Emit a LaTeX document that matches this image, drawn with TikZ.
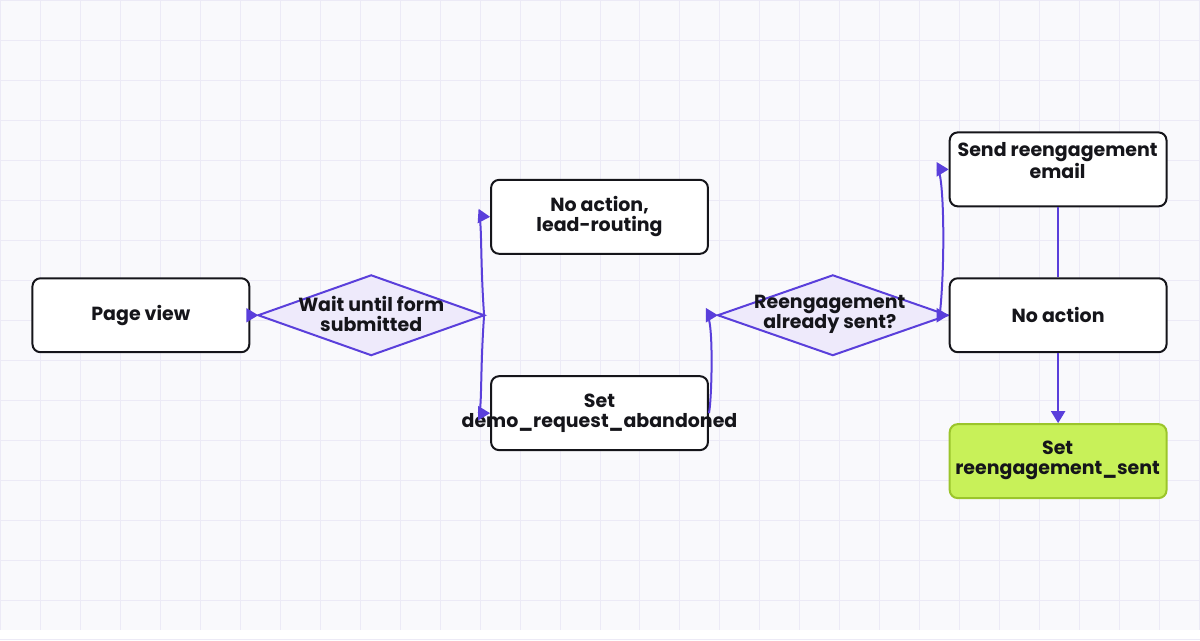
\documentclass[tikz,border=0pt]{standalone}
\usepackage{fontspec}
\setmainfont{Poppins}
\usetikzlibrary{shapes.geometric,arrows.meta}
\definecolor{bg}{HTML}{F9F9FC}
\definecolor{gridc}{HTML}{ECEAF6}
\definecolor{purp}{HTML}{5A3FDB}
\definecolor{dfill}{HTML}{EEEAFB}
\definecolor{gfill}{HTML}{C8F159}
\definecolor{gdraw}{HTML}{9BC52B}
\definecolor{ink}{HTML}{15151A}
\begin{document}
\begin{tikzpicture}[x=1pt,y=-1pt,
  box/.style={draw=ink,line width=2pt,rounded corners=8pt,fill=white,minimum width=217pt,minimum height=74pt,inner sep=0pt},
  dia/.style={diamond,draw=purp,line width=2pt,fill=dfill,minimum width=0pt,inner sep=0pt},
  lbl/.style={font=\fontsize{19}{20}\selectfont\bfseries,text=ink,align=center},
  conn/.style={draw=purp,line width=2pt},
  arr/.style={conn,-{Triangle[length=12pt,width=14pt]}}]
\fill[bg] (0,0) rectangle (1200,630);
\foreach \x in {0,40,...,1200} \draw[gridc,line width=1pt] (\x,0) -- (\x,630);
\foreach \y in {0,40,...,640} \draw[gridc,line width=1pt] (0,\y) -- (1200,\y);
\useasboundingbox (0,0) rectangle (1200,630);
\node[box] (pv) at (140.5,315) {};
\node[lbl] at (pv) {Page view};
\draw[purp,line width=2pt,fill=dfill] (258,315) -- (371,275) -- (484,315) -- (371,355) -- cycle;
\coordinate (d1w) at (258,315); \coordinate (d1e) at (484,315);
\node[lbl] (d1t) at (371,314) {Wait until form\\submitted};
\node[box] (na1) at (599.5,216.5) {};
\node[lbl] at (na1) {No action,\\lead-routing};
\node[box] (sd) at (599.5,413) {};
\node[lbl] at (sd) {Set\\demo\_request\_abandoned};
\draw[purp,line width=2pt,fill=dfill] (718,315) -- (833,275) -- (948,315) -- (833,355) -- cycle;
\coordinate (d2w) at (718,315); \coordinate (d2e) at (948,315);
\node[lbl] (d2t) at (830,314) {Reengagement\\already sent?};
\node[box] (se) at (1058.5,169) {};
\node[lbl] at (1058,160) {Send reengagement\\email};
\node[box] (na2) at (1058.5,315) {};
\node[lbl] at (na2) {No action};
\node[box,fill=gfill,draw=gdraw] (sr) at (1058.5,461) {};
\node[lbl] at (1058,460) {Set\\reengagement\_sent};
\draw[arr] (pv.east) -- (d1w);
\draw[arr] (d1e) .. controls (480,260) and (482,216) .. (na1.west);
\draw[arr] (d1e) .. controls (480,370) and (482,413) .. (sd.west);
\draw[arr] (sd.east) .. controls (712,400) and (714,315) .. (d2w);
\draw[arr] (d2e) -- (na2.west);
\draw[arr] (940,315) .. controls (946,260) and (944,169) .. (se.west);
\draw[conn] (na2.north) -- (se.south);
\draw[arr] (na2.south) -- (sr.north);
\end{tikzpicture}
\end{document}
